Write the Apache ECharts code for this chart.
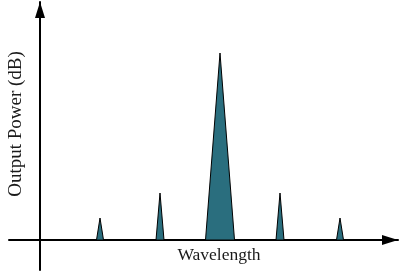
<!DOCTYPE html>
<html>
<head>
<meta charset="utf-8">
<script src="https://cdn.jsdelivr.net/npm/echarts@6/dist/echarts.min.js"></script>
<style>
html,body{margin:0;padding:0;background:#fff;}
#chart{width:400px;height:272px;}
</style>
</head>
<body>
<div id="chart"></div>
<script>
// Peak data (arbitrary wavelength units; y axis at 0)
var peakCenters = [60, 120, 180, 240, 300];
var peakHeights = [22, 47, 187, 47, 22];
var peakHalfWidths = [3.5, 4, 14.5, 4, 3.5];
var xAxisTitle = 'Wavelength';
var yAxisTitle = 'Output Power (dB)';

var data = peakCenters.map(function (c, i) { return [c, peakHeights[i], peakHalfWidths[i]]; });

var chart = echarts.init(document.getElementById('chart'), null, {renderer: 'canvas'});
var axisLineCommon = {
  show: true,
  onZero: true,
  symbol: ['none', 'triangle'],
  symbolOffset: [0, -8],
  lineStyle: {color: '#000', width: 2}
};
chart.setOption({
  animation: false,
  backgroundColor: '#fff',
  grid: {left: 9, right: 2, top: 2, bottom: 2},
  xAxis: {
    type: 'value', min: -31, max: 358,
    axisLine: Object.assign({}, axisLineCommon, {symbolSize: [10, 16]}),
    axisTick: {show: false}, axisLabel: {show: false}, splitLine: {show: false}
  },
  yAxis: {
    type: 'value', min: -30, max: 238,
    axisLine: Object.assign({}, axisLineCommon, {symbolSize: [10, 16]}),
    axisTick: {show: false}, axisLabel: {show: false}, splitLine: {show: false}
  },
  series: [{
    type: 'custom',
    data: data,
    encode: {x: 0, y: 1},
    renderItem: function (params, api) {
      var c = api.value(0), h = api.value(1), w = api.value(2);
      var l = api.coord([c - w, 0]);
      var t = api.coord([c, h]);
      var r = api.coord([c + w, 0]);
      return {
        type: 'polygon',
        shape: {points: [l, t, r]},
        style: {fill: '#2a6e7e', stroke: '#000', lineWidth: 1}
      };
    }
  }],
  graphic: [
    {type: 'text', x: 219, y: 255, style: {text: xAxisTitle, font: '17.5px "Liberation Serif"', fill: '#1a1a1a', align: 'center', verticalAlign: 'middle'}},
    {type: 'text', x: 16, y: 124, rotation: Math.PI / 2, style: {text: yAxisTitle, font: '19px "Liberation Serif"', fill: '#1a1a1a', align: 'center', verticalAlign: 'middle'}}
  ]
});
</script>
</body>
</html>
